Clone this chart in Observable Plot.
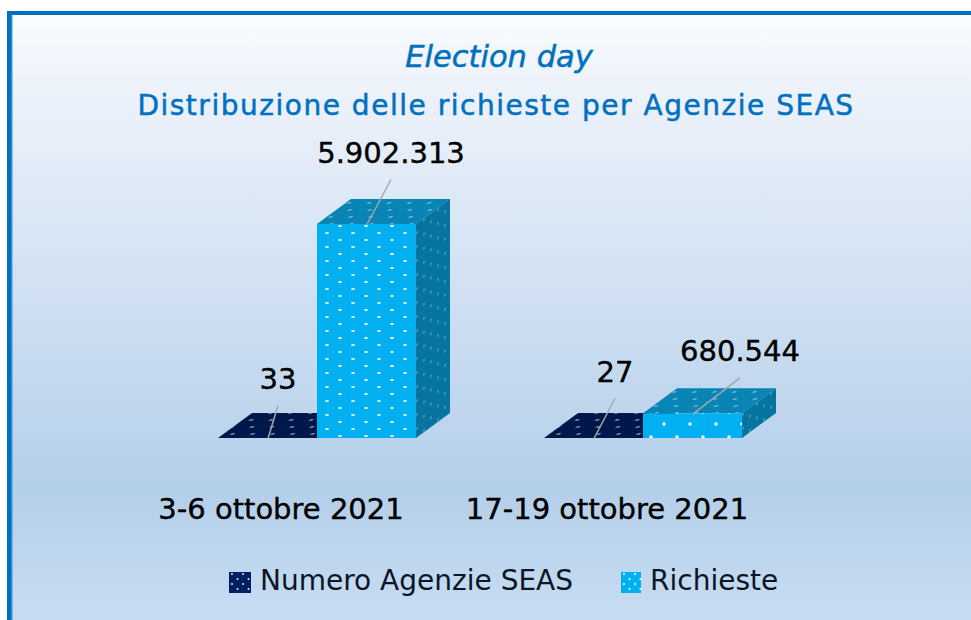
<!DOCTYPE html>
<html lang="it">
<head>
<meta charset="utf-8">
<script src="https://cdn.jsdelivr.net/npm/d3@7"></script>
<script src="https://cdn.jsdelivr.net/npm/@observablehq/plot@0.6"></script>
<style>
html,body{margin:0;padding:0;background:#fff;}
body{width:971px;height:620px;overflow:hidden;position:relative;font-family:"DejaVu Sans",sans-serif;}
#frame{position:absolute;left:7px;top:11px;width:964px;height:609px;box-sizing:border-box;
  border-left:4px solid #0070c0;border-top:4px solid #0070c0;
  box-shadow:inset 1.5px 0 0 #3a8fd0;
  background:linear-gradient(180deg,#f9fcff 0%,#eef3fb 11%,#b4cfea 78%,#c7dcf1 100%);}
.t{position:absolute;left:0;width:971px;text-align:center;color:#0070c0;white-space:nowrap;-webkit-text-stroke:.5px #0070c0;}
#t1{top:39px;font-size:30.5px;font-style:italic;margin-left:13.5px;}
#t2{top:89px;font-size:28px;letter-spacing:1.52px;margin-left:10.500px;}
#chart{position:absolute;left:0;top:130px;}
#chart text{stroke:#000;stroke-width:.4px;}
#legend{position:absolute;left:0;top:560px;width:971px;height:40px;font-size:28px;color:#0b1526;}
#legend span{position:absolute;top:3px;white-space:nowrap;}
#legend svg{position:absolute;top:12px;}
#defs{position:absolute;width:0;height:0;}
</style>
</head>
<body>
<svg id="defs" aria-hidden="true">
  <defs>
    <pattern id="sky" width="26" height="14" patternUnits="userSpaceOnUse" patternTransform="translate(3,3)">
      <rect width="26" height="14" fill="#00b0f0"/>
      <ellipse cx="11" cy="2" rx="2" ry="1" fill="#e8f8ff"/><ellipse cx="24" cy="9" rx="2" ry="1" fill="#e8f8ff"/>
    </pattern>
    <pattern id="skyWide" width="26" height="25" patternUnits="userSpaceOnUse" patternTransform="translate(3,3)">
      <rect width="26" height="25" fill="#00b0f0"/>
      <circle cx="9" cy="4" r="1.7" fill="#ffffff"/><circle cx="22" cy="16" r="1.7" fill="#ffffff"/>
    </pattern>
    <pattern id="skyTop" width="20" height="14" patternUnits="userSpaceOnUse" patternTransform="skewX(-53)">
      <rect width="20" height="14" fill="#0884b5"/>
      <ellipse cx="5" cy="3" rx="2" ry=".8" fill="#7dbdd7"/><ellipse cx="15" cy="10" rx="2" ry=".8" fill="#7dbdd7"/>
    </pattern>
    <pattern id="skySide" width="14" height="14" patternUnits="userSpaceOnUse" patternTransform="skewY(-37)">
      <rect width="14" height="14" fill="#05749f"/>
      <ellipse cx="3" cy="3" rx=".7" ry="1.4" fill="#63a8c5"/><ellipse cx="10" cy="10" rx=".7" ry="1.4" fill="#63a8c5"/>
    </pattern>
    <pattern id="navyTop" width="20" height="14" patternUnits="userSpaceOnUse" patternTransform="skewX(-53)">
      <rect width="20" height="14" fill="#00184c"/>
      <ellipse cx="5" cy="3" rx="2" ry=".8" fill="#97a1b6"/><ellipse cx="15" cy="10" rx="2" ry=".8" fill="#97a1b6"/>
    </pattern>
    <pattern id="navySwatch" width="11" height="10" patternUnits="userSpaceOnUse">
      <rect width="11" height="10" fill="#002060"/>
      <circle cx="3" cy="2" r="1" fill="#dfe6f2"/><circle cx="8.500" cy="7" r="1" fill="#dfe6f2"/>
    </pattern>
    <pattern id="skySwatch" width="11" height="10" patternUnits="userSpaceOnUse">
      <rect width="11" height="10" fill="#00b0f0"/>
      <circle cx="3" cy="2" r="1" fill="#ffffff"/><circle cx="8.500" cy="7" r="1" fill="#ffffff"/>
    </pattern>
  </defs>
</svg>
<div id="frame"></div>
<div class="t" id="t1">Election day</div>
<div class="t" id="t2">Distribuzione delle richieste per Agenzie SEAS</div>
<div id="chart"></div>
<div id="legend">
  <svg style="left:229px" width="22" height="21"><rect width="22" height="21" fill="url(#navySwatch)"/></svg>
  <span style="left:260px;top:4px">Numero Agenzie SEAS</span>
  <svg style="left:621px" width="20" height="21"><rect width="20" height="21" fill="url(#skySwatch)"/></svg>
  <span style="left:650px;top:4px">Richieste</span>
</div>
<script>
const periods = ["3-6 ottobre 2021", "17-19 ottobre 2021"];
const seriesNames = ["Numero Agenzie SEAS", "Richieste"];
const agenzie = [33, 27];
const richieste = [5902313, 680544];
const valueLabels = [["33", "5.902.313"], ["27", "680.544"]];

const rows = periods.flatMap((period, i) => [
  {period, series: seriesNames[0], value: agenzie[i], label: valueLabels[i][0]},
  {period, series: seriesNames[1], value: richieste[i], label: valueLabels[i][1]}
]);

const SVG = "http://www.w3.org/2000/svg";
const depthX = 34, depthY = 25;

function frontPattern(d) {
  if (d.series === seriesNames[0]) return "url(#navyTop)";
  return d.value < 1e6 ? "url(#skyWide)" : "url(#sky)";
}
function poly(pts, fill) {
  const p = document.createElementNS(SVG, "polygon");
  p.setAttribute("points", pts.map(q => q.join(",")).join(" "));
  p.setAttribute("fill", fill);
  return p;
}
function prism(index, scales, values, dims, ctx, next) {
  const g = next(index, scales, values, dims, ctx);
  for (const r of [...g.querySelectorAll("rect")]) {
    const x = +r.getAttribute("x"), y = +r.getAttribute("y");
    const w = +r.getAttribute("width"), h = +r.getAttribute("height");
    const navy = r.getAttribute("fill") === "url(#navyTop)";
    const top = poly([[x, y], [x + depthX, y - depthY], [x + w + depthX, y - depthY], [x + w, y]], navy ? "url(#navyTop)" : "url(#skyTop)");
    r.parentNode.insertBefore(top, r);
    if (!navy) {
      const side = poly([[x + w, y], [x + w + depthX, y - depthY], [x + w + depthX, y + h - depthY], [x + w, y + h]], "url(#skySide)");
      r.parentNode.insertBefore(side, r);
    }
  }
  return g;
}
// A value label sitting up and to the right of its bar, tied to it by a grey leader line.
function callout(series, period, dx, dy) {
  return Plot.text(rows, {
    filter: d => d.series === series && d.period === period,
    x: "series", y: "value", fx: "period", text: "label",
    dx, dy, fontSize: 29, fill: "#000",
    render(index, scales, values, dims, ctx, next) {
      const g = next(index, scales, values, dims, ctx);
      for (const i of index) {
        const l = document.createElementNS(SVG, "line");
        l.setAttribute("x1", values.x[i] - dx);
        l.setAttribute("y1", values.y[i] - dy);
        l.setAttribute("x2", values.x[i]);
        l.setAttribute("y2", values.y[i] + 26);
        l.setAttribute("stroke", "#a6a6a6");
        l.setAttribute("stroke-width", 1.5);
        g.appendChild(l);
      }
      return g;
    }
  });
}

const plot = Plot.plot({
  width: 971, height: 400,
  marginTop: 94, marginBottom: 92, marginLeft: 216, marginRight: 229,
  style: {background: "transparent", fontFamily: "'DejaVu Sans',sans-serif", overflow: "visible"},
  fx: {domain: periods, paddingInner: 0.391, paddingOuter: 0, axis: null, label: null},
  x: {domain: seriesNames, axis: null, padding: 0, label: null},
  y: {domain: [0, richieste[0]], axis: null, label: null},
  color: {type: "identity"},
  marks: [
    Plot.barY(rows, {x: "series", y: "value", fx: "period", fill: frontPattern, render: prism}),
    callout(seriesNames[0], periods[0], 10, -59),
    callout(seriesNames[1], periods[0], 24, -71),
    callout(seriesNames[0], periods[1], 21, -66),
    callout(seriesNames[1], periods[1], 47, -62),
    Plot.axisFx({anchor: "bottom", dx: -36, label: null, tickSize: 0, tickPadding: 60, fontSize: 29, fill: "#000"})
  ]
});
document.getElementById("chart").appendChild(plot);
</script>
</body>
</html>
